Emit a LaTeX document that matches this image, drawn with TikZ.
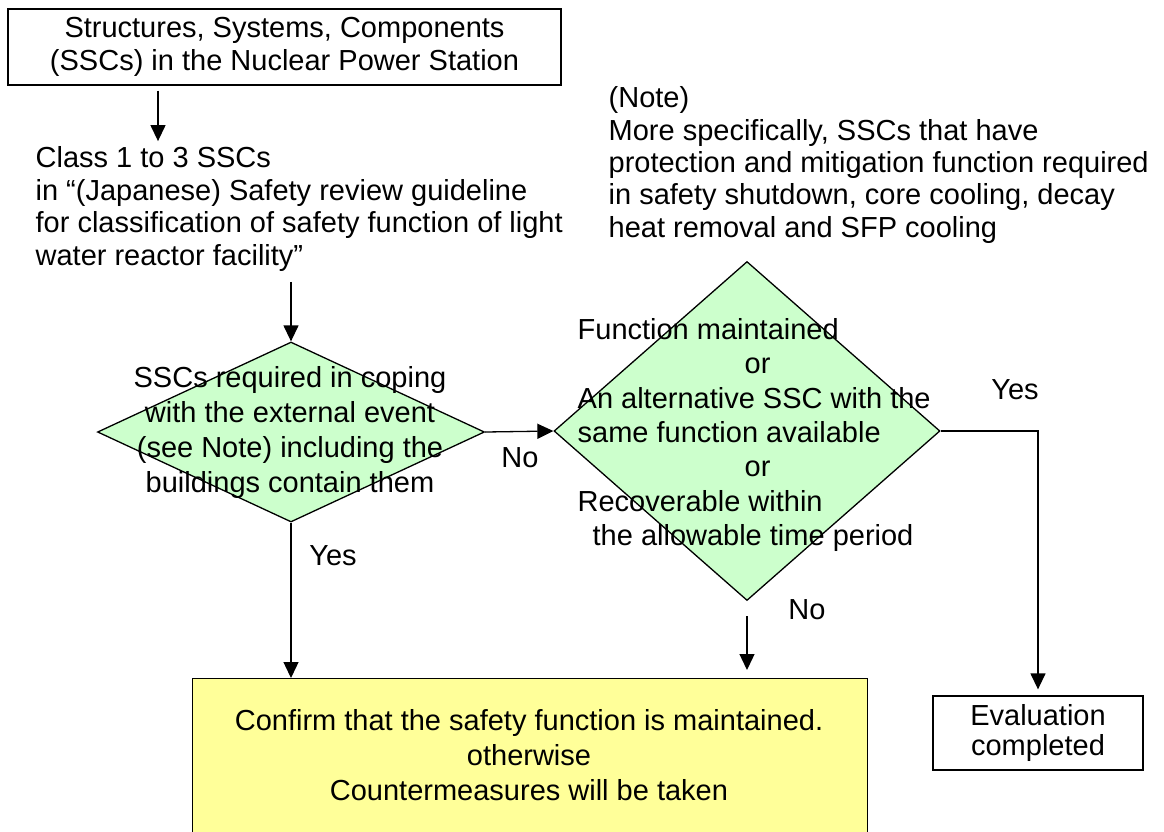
\documentclass[tikz,border=0pt]{standalone}
\usepackage{fontspec}
\setmainfont{Liberation Sans}
\usetikzlibrary{shapes.geometric,arrows.meta}
\definecolor{dgreen}{HTML}{CCFFCC}
\definecolor{ylw}{HTML}{FFFF99}
\begin{document}
\begin{tikzpicture}[x=1pt,y=-1pt,line width=1.3pt,
  >={Triangle[length=16pt,width=15pt]},
  txt/.style={inner sep=0pt,font=\fontsize{29}{34}\selectfont},
  box/.style={draw,inner sep=0pt},
  decision/.style={diamond,draw,fill=dgreen,inner sep=0pt}]
\useasboundingbox (0,0) rectangle (1164,831);

% start box and the class list below it
\node[box,minimum width=553pt,minimum height=76pt,align=center,
      font=\fontsize{29}{33}\selectfont] (top) at (284.5,47)
  {Structures, Systems, Components\\(SSCs) in the Nuclear Power Station};
\node[txt,align=left,anchor=west,font=\fontsize{29}{32.5}\selectfont] (cls) at (35,209)
  {Class 1 to 3 SSCs\\in “(Japanese) Safety review guideline\\for classification of safety function of light\\water reactor facility”};

% note at the upper right
\node[txt,align=left,anchor=west,font=\fontsize{29}{32.3}\selectfont] (note) at (608,165)
  {(Note)\\More specifically, SSCs that have\\protection and mitigation function required\\in safety shutdown, core cooling, decay\\heat removal and SFP cooling};

% decisions
\node[decision,minimum width=387pt,minimum height=180pt] (d1) at (291,432) {};
\node[txt,align=center,font=\fontsize{29}{35}\selectfont] (d1t) at (290,432)
  {SSCs required in coping\\with the external event\\(see Note) including the\\buildings contain them};

\node[decision,minimum width=386pt,minimum height=339pt] (d2) at (747,431) {};
\node[txt,align=left,anchor=west,font=\fontsize{29}{34.3}\selectfont] (d2t) at (577,435)
  {Function maintained\\\hspace*{167pt}or\\An alternative SSC with the\\same function available\\\hspace*{167pt}or\\Recoverable within\\\hspace*{15pt}the allowable time period};

% outcomes
\node[box,fill=ylw,minimum width=675pt,minimum height=170pt,anchor=north west] (res) at (192,678) {};
\node[txt,align=center,font=\fontsize{29}{35}\selectfont] (rest) at (529,755)
  {Confirm that the safety function is maintained.\\otherwise\\Countermeasures will be taken};
\node[box,minimum width=210pt,minimum height=74pt,align=center,
      font=\fontsize{29}{30}\selectfont] (ev) at (1038,733) {Evaluation\\completed};

% branch labels
\node[txt] (no1) at (520,458) {No};
\node[txt] (yes1) at (333,556) {Yes};
\node[txt] (no2) at (807,610) {No};
\node[txt] (yes2) at (1015,390) {Yes};

% connectors
\coordinate (a1) at (158,0);
\draw[->,shorten <=5pt,shorten >=5pt] (top.south -| a1) -- (cls.north -| a1);
\draw[->,shorten <=10pt] (cls.south -| d1.north) -- (d1.north);
\draw[->] (d1.east) -- (d2.west);
\draw[->] (d1.south) -- (d1.south |- res.north);
\draw[->,shorten <=15pt,shorten >=8pt] (d2.south) -- (d2.south |- res.north);
\draw[->,shorten >=6pt] (d2.east) -- (d2.east -| ev.north) -- (ev.north);
\end{tikzpicture}
\end{document}
